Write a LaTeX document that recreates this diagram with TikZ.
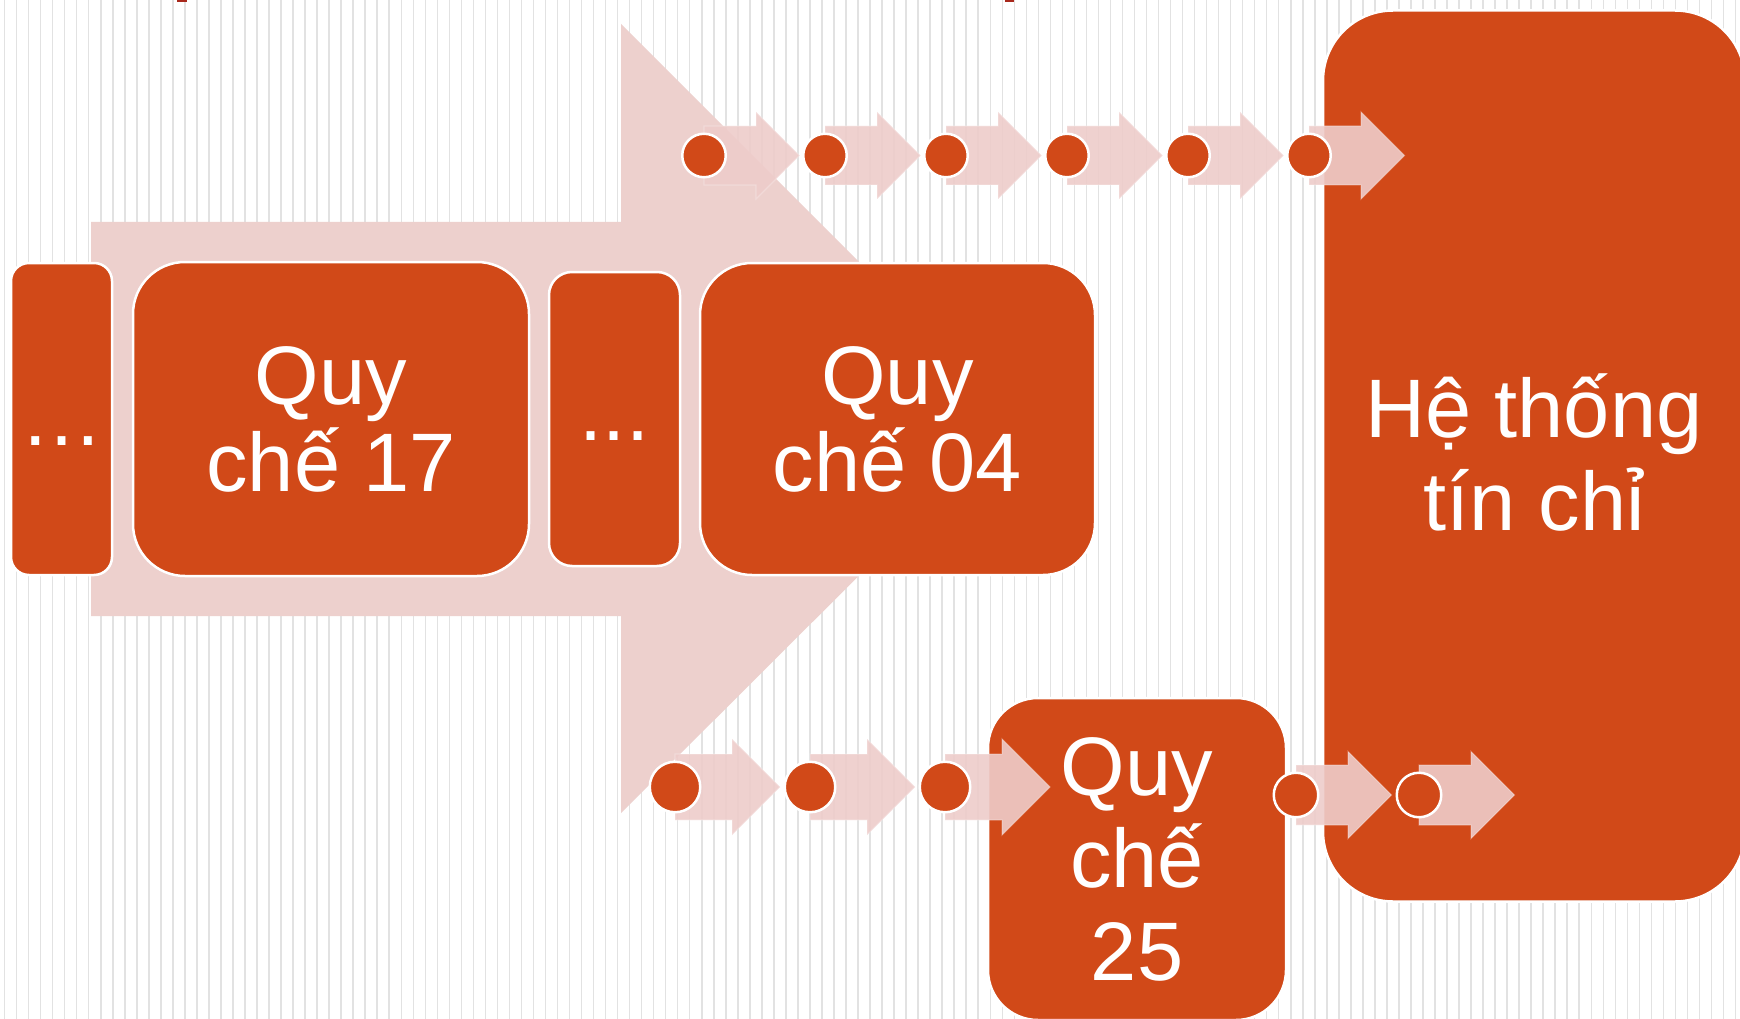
\documentclass[tikz,border=0pt]{standalone}
\usepackage{fontspec}
\setmainfont{Liberation Sans}
\definecolor{qorange}{RGB}{209,73,24}
\definecolor{bigpink}{RGB}{237,208,205}
\definecolor{smallpink}{RGB}{238,204,202}
\definecolor{stripegray}{RGB}{226,226,226}
\definecolor{topred}{RGB}{168,40,28}
\newcommand{\blkarrow}[4]{%
  \fill[blk] (#1) ++(0,-#2) -- ++(#3,0) -- ++(0,{-(#4-#2)}) -- ++(#4,#4) -- ++(-#4,#4) -- ++(0,{-(#4-#2)}) -- ++(-#3,0) -- cycle;}
\tikzset{
  box/.style={draw=white, line width=2.5pt, fill=qorange, text=white, align=center, inner sep=0pt},
  qtext/.style={font=\fontsize{83}{87}\selectfont},
  qtextwide/.style={font=\fontsize{83}{92.5}\selectfont},
  dot/.style={circle, draw=white, line width=2.5pt, fill=qorange, inner sep=0pt},
  blk/.style={fill=smallpink, fill opacity=0.9, draw=white, draw opacity=0.25, line width=1.2pt},
  stripe/.style={stripegray, line width=1.5pt},
}
\begin{document}
\begin{tikzpicture}[x=1pt,y=-1pt]
\clip (0,0) rectangle (1740,1019);
\fill[white] (0,0) rectangle (1740,1019);
\foreach \i in {0,...,144} \draw[stripe] ({4.6+12.02*\i},0) -- ++(0,1019);
\fill[topred] (177,0) rectangle (187,2.2);
\fill[topred] (1005,0) rectangle (1014,2.2);
% big background arrow
\fill[bigpink] (91,222) -- (621,222) -- (621,24) -- (1016,419) -- (621,813) -- (621,616) -- (91,616) -- cycle;
% boxes
\node[box, qtext, minimum width=101pt, minimum height=312pt, rounded corners=18pt, text height=70pt, text depth=18pt] (dl) at (61.5,419) {…};
\node[box, qtext, minimum width=396pt, minimum height=314pt, rounded corners=52pt] (q17) at (331,419) {Quy\\chế 17};
\node[box, qtext, minimum width=131pt, minimum height=294pt, rounded corners=23pt, text height=60pt, text depth=18pt] (dm) at (614.5,419) {...};
\node[box, qtext, minimum width=395pt, minimum height=312pt, rounded corners=52pt] (q04) at (897.5,419) {Quy\\chế 04};
\node[box, qtextwide, minimum width=298pt, minimum height=322pt, rounded corners=50pt] (q25) at (1137,859) {Quy\\chế\\25};
\node[box, qtextwide, minimum width=422pt, minimum height=891pt, rounded corners=70pt] (ht) at (1534,456) {Hệ thống\\tín chỉ\\[-84.5pt]\mbox{}};
% circle positions
\coordinate (t1) at (704,155.5);
\coordinate (t2) at (825,155.5);
\coordinate (t3) at (946,155.5);
\coordinate (t4) at (1067,155.5);
\coordinate (t5) at (1188,155.5);
\coordinate (t6) at (1309,155.5);
\coordinate (b1) at (675,787);
\coordinate (b2) at (810,787);
\coordinate (b3) at (945,787);
\coordinate (r1) at (1296,795);
\coordinate (r2) at (1419,795);
% block arrows
\foreach \c in {t1,t2,t3,t4,t5,t6} {\blkarrow{\c}{29.5}{52}{43.5}}
\foreach \c in {b1,b2,b3} {\blkarrow{\c}{33}{57}{48}}
\foreach \c in {r1,r2} {\blkarrow{\c}{30}{52}{43.5}}
% circles
\foreach \c in {t1,t2,t3,t4,t5,t6} {\node[dot, minimum size=43.5pt] (c\c) at (\c) {};}
\foreach \c in {b1,b2,b3} {\node[dot, minimum size=50.5pt] (c\c) at (\c) {};}
\foreach \c in {r1,r2} {\node[dot, minimum size=44.5pt] (c\c) at (\c) {};}
\end{tikzpicture}
\end{document}
